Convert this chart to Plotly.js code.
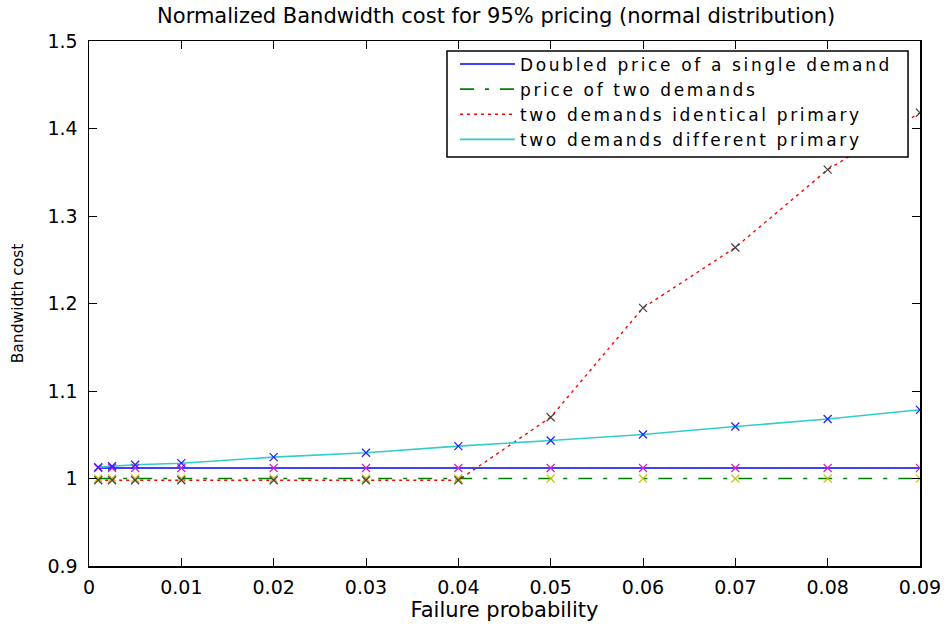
<!DOCTYPE html>
<html>
<head>
<meta charset="utf-8">
<script src="https://cdn.plot.ly/plotly-3.0.1.min.js"></script>
<style>
  html, body { margin: 0; padding: 0; background: #fff; }
  #chart { width: 948px; height: 626px; }
  .legendtext { letter-spacing: 2.65px; }
</style>
</head>
<body>
<div id="chart"></div>
<script>
// ---- data ----
const failureProb = [0.001, 0.0025, 0.005, 0.01, 0.02, 0.03, 0.04, 0.05, 0.06, 0.07, 0.08, 0.09];
const doubledSingle = [1.012, 1.012, 1.012, 1.012, 1.012, 1.012, 1.012, 1.012, 1.012, 1.012, 1.012, 1.012];
const priceTwo = [1.0, 1.0, 1.0, 1.0, 1.0, 1.0, 1.0, 1.0, 1.0, 1.0, 1.0, 1.0];
const identicalPrimary = [0.998, 0.998, 0.998, 0.998, 0.998, 0.998, 0.998, 1.070, 1.195, 1.264, 1.353, 1.418];
const differentPrimary = [1.013, 1.014, 1.0157, 1.0175, 1.0244, 1.0294, 1.037, 1.0434, 1.0503, 1.0594, 1.068, 1.0785];

const seriesNames = [
  'Doubled price of a single demand',
  'price of two demands',
  'two demands identical primary',
  'two demands different primary'
];
const xTickVals = [0, 0.01, 0.02, 0.03, 0.04, 0.05, 0.06, 0.07, 0.08, 0.09];
const xTickText = ['0', '0.01', '0.02', '0.03', '0.04', '0.05', '0.06', '0.07', '0.08', '0.09'];
const yTickVals = [0.9, 1.0, 1.1, 1.2, 1.3, 1.4, 1.5];
const yTickText = ['0.9', '1', '1.1', '1.2', '1.3', '1.4', '1.5'];

const FONT = 'DejaVu Sans, Verdana, sans-serif';

function lineTrace(y, name, color, dash, width) {
  return { x: failureProb, y: y, name: name, type: 'scatter', mode: 'lines',
           line: { color: color, dash: dash, width: width }, hoverinfo: 'skip' };
}
function markerTrace(y, color) {
  return { x: failureProb, y: y, type: 'scatter', mode: 'markers', showlegend: false,
           marker: { symbol: 'x-thin-open', size: 8, color: color, line: { color: color, width: 1.2 } },
           hoverinfo: 'skip' };
}

const traces = [
  lineTrace(doubledSingle, seriesNames[0], '#0000ff', 'solid', 1.6),
  lineTrace(priceTwo, seriesNames[1], '#008000', '14px,11px,4px,11px', 1.6),
  lineTrace(identicalPrimary, seriesNames[2], '#ff0000', '3px,4px', 1.4),
  lineTrace(differentPrimary, seriesNames[3], '#33cccc', 'solid', 1.6),
  markerTrace(doubledSingle, '#d020d0'),
  markerTrace(priceTwo, '#c8c800'),
  markerTrace(identicalPrimary, '#444444'),
  markerTrace(differentPrimary, '#2020ff')
];

const axisCommon = {
  showline: true, linecolor: '#000', linewidth: 1.5, mirror: 'ticks',
  ticks: 'inside', ticklen: 8, tickwidth: 1, tickcolor: '#000',
  showgrid: false, zeroline: false, fixedrange: true,
  tickfont: { family: FONT, size: 19, color: '#000' }
};

const layout = {
  width: 948, height: 626,
  margin: { l: 89, r: 28, t: 41, b: 60 },
  paper_bgcolor: '#fff', plot_bgcolor: '#fff',
  font: { family: FONT, color: '#000' },
  showlegend: true,
  title: {
    text: 'Normalized Bandwidth cost for 95% pricing (normal distribution)',
    font: { family: FONT, size: 21, color: '#000' },
    xref: 'paper', x: 0.49, xanchor: 'center',
    yref: 'container', y: 0.9752, yanchor: 'middle'
  },
  xaxis: Object.assign({}, axisCommon, {
    range: [0, 0.09], tickmode: 'array', tickvals: xTickVals, ticktext: xTickText,
    ticklabelstandoff: 4,
    title: { text: 'Failure probability', font: { family: FONT, size: 21, color: '#000' }, standoff: 4 }
  }),
  yaxis: Object.assign({}, axisCommon, {
    range: [0.9, 1.5], tickmode: 'array', tickvals: yTickVals, ticktext: yTickText,
    ticklabelstandoff: 6,
    title: { text: 'Bandwidth cost', font: { family: FONT, size: 15.5, color: '#000' }, standoff: 20 }
  }),
  // legend frame (white box with black border, covering the lines beneath it)
  shapes: [{
    type: 'rect', xref: 'paper', yref: 'paper', layer: 'above',
    x0: 0.4308, x1: 0.9856, y0: 0.7790, y1: 0.981,
    fillcolor: '#fff', line: { color: '#000', width: 1.5 }
  }],
  legend: {
    x: 0.4404, xanchor: 'left', y: 0.9895, yanchor: 'top',
    bgcolor: 'rgba(0,0,0,0)', borderwidth: 0,
    font: { family: FONT, size: 17, color: '#000' },
    itemwidth: 55, tracegroupgap: 0
  }
};

Plotly.newPlot('chart', traces, layout, { displayModeBar: false, staticPlot: true });
</script>
</body>
</html>
